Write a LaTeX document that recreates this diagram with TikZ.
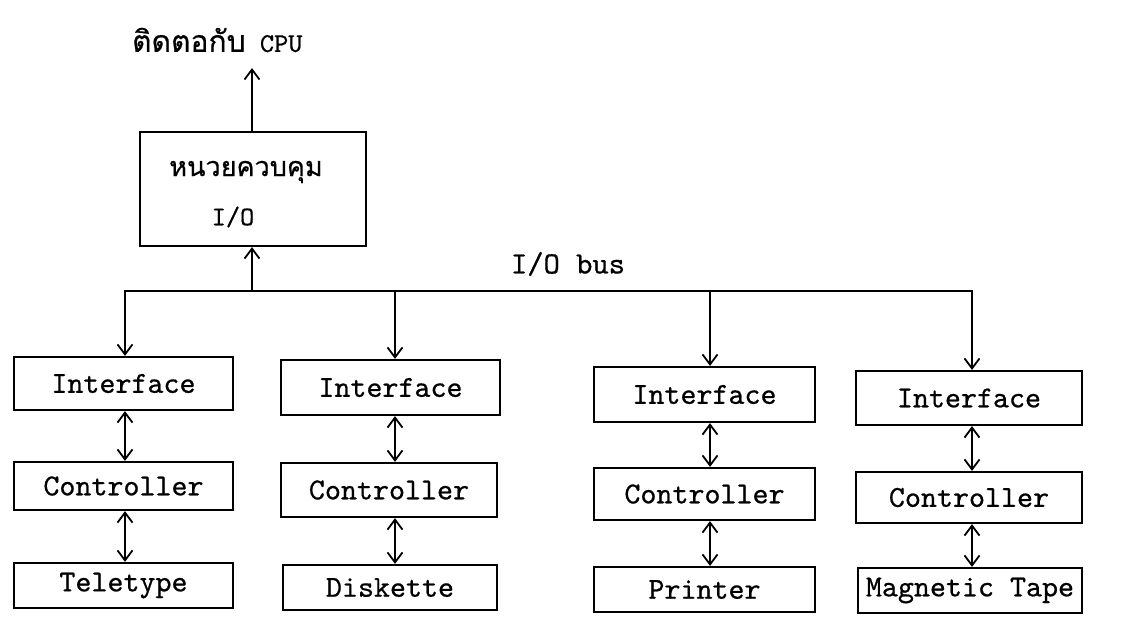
\documentclass[tikz,border=0pt]{standalone}
\usepackage{fontspec}
\newfontfamily\tw{lmmono10-regular.otf}[FakeBold=0.6]
\newfontfamily\thaifont[Script=Thai,FakeBold=0.6]{Loma}
\usetikzlibrary{arrows.meta}
\begin{document}
\begin{tikzpicture}[x=1pt,y=-1pt,
  line width=2.2pt,
  box/.style={draw, rectangle, inner sep=0pt, font=\tw\fontsize{30.5}{34}\selectfont},
  arr/.style={-{Straight Barb[length=10pt,width=15pt,line width=1.8pt]}},
  biarr/.style={{Straight Barb[length=10pt,width=15pt,line width=1.8pt]}-{Straight Barb[length=10pt,width=15pt,line width=1.8pt]}},
  lbl/.style={inner sep=0pt, font=\tw\fontsize{27}{30}\selectfont}]
\useasboundingbox (0,0) rectangle (1133,625);
% top label
\node[lbl, anchor=west] (cpu) at (131,40) {{\thaifont\fontsize{30}{34}\selectfont ติดตอกับ} CPU};
% main unit
\node[box, minimum width=226pt, minimum height=114pt] (m) at (253,189) {};
\node[inner sep=0pt, font=\thaifont\fontsize{27}{32}\selectfont] (mt) at (246,172) {หนวยควบคุม};
\node[lbl] (mio) at (233,217) {I/O};
\coordinate (cpuend) at (252,68);
\draw[arr] (m.north -| cpuend) -- (cpuend);
% bus
\node[lbl, font=\tw\fontsize{31}{34}\selectfont] (buslbl) at (568,264) {I/O bus};
\coordinate (b1) at (125,291);
\coordinate (b2) at (395,291);
\coordinate (bm) at (252,291);
\coordinate (b3) at (710,291);
\coordinate (b4) at (972,291);
% interfaces
\node[box, minimum width=219pt, minimum height=53pt] (i1) at (123.5,383.5) {Interface};
\node[box, minimum width=219pt, minimum height=55pt] (i2) at (390.5,387.5) {Interface};
\node[box, minimum width=221pt, minimum height=55pt] (i3) at (704.5,394.5) {Interface};
\node[box, minimum width=226pt, minimum height=54pt] (i4) at (969,398) {Interface};
% controllers
\node[box, minimum width=219pt, minimum height=48pt] (c1) at (123.5,486) {Controller};
\node[box, minimum width=216pt, minimum height=54pt] (c2) at (389,490) {Controller};
\node[box, minimum width=221pt, minimum height=52pt] (c3) at (704.5,494) {Controller};
\node[box, minimum width=226pt, minimum height=51pt] (c4) at (969,497.5) {Controller};
% devices
\node[box, minimum width=219pt, minimum height=45pt] (d1) at (123.5,585.5) {Teletype};
\node[box, minimum width=214pt, minimum height=45pt] (d2) at (390,587.5) {Diskette};
\node[box, minimum width=221pt, minimum height=45pt] (d3) at (704.5,589.5) {Printer};
\node[box, minimum width=224pt, minimum height=45pt] (d4) at (970,590.5) {Magnetic Tape};
% bus lines
\draw[arr, line join=miter] (b4) -- (b1) -- (b1 |- i1.north);
\draw[arr, line join=miter] (b1) -- (b4) -- (b4 |- i4.north);
\draw[arr] (b2) -- (b2 |- i2.north);
\draw[arr] (b3) -- (b3 |- i3.north);
\draw[arr] (bm) -- (bm |- m.south);
% bidirectional links
\draw[biarr] (i1.south -| b1) -- (c1.north -| b1);
\draw[biarr] (c1.south -| b1) -- (d1.north -| b1);
\draw[biarr] (i2.south -| b2) -- (c2.north -| b2);
\draw[biarr] (c2.south -| b2) -- (d2.north -| b2);
\draw[biarr] (i3.south -| b3) -- (c3.north -| b3);
\draw[biarr] (c3.south -| b3) -- (d3.north -| b3);
\draw[biarr] (i4.south -| b4) -- (c4.north -| b4);
\draw[biarr] (c4.south -| b4) -- (d4.north -| b4);
\end{tikzpicture}
\end{document}
